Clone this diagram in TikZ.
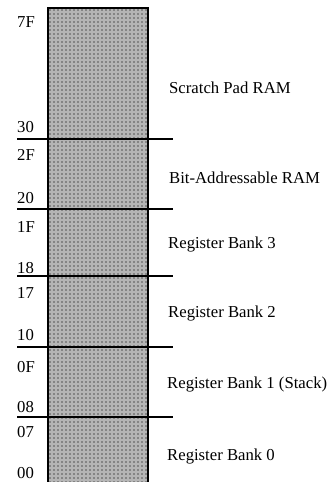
\documentclass[tikz,border=0pt]{standalone}
\usepackage{fontspec}
\setmainfont{Liberation Serif}
\begin{document}
\begin{tikzpicture}[x=1pt,y=-1pt,
  addr/.style={anchor=base west,inner sep=0pt,font=\fontsize{16.7}{18}\selectfont},
  region/.style={anchor=base west,inner sep=0pt,font=\fontsize{16.7}{18}\selectfont},
  divider/.style={line width=2.8pt},
  memfill/.style={fill=black!48}]
\useasboundingbox (0,0) rectangle (329,482);
% memory block
\fill[memfill] (48,8) rectangle (148,482);
\begin{scope}
\clip (48,8) rectangle (148,482);
\draw[white,opacity=0.4,line width=1.2pt,step=4pt] (48,8) grid (148,482);
\end{scope}
\draw[line width=2.8pt] (48,483) -- (48,8) -- (148,8) -- (148,483);
% dividers
\foreach \yy in {139,209,276,347,417}
  \draw[divider] (17,\yy) -- (173,\yy);
% address labels
\node[addr] (a7F) at (17,27) {7F};
\node[addr] (a30) at (17,132) {30};
\node[addr] (a2F) at (17,160) {2F};
\node[addr] (a20) at (17,203) {20};
\node[addr] (a1F) at (17,232) {1F};
\node[addr] (a18) at (17,273) {18};
\node[addr] (a17) at (17,298) {17};
\node[addr] (a10) at (17,340) {10};
\node[addr] (a0F) at (17,372) {0F};
\node[addr] (a08) at (17,412) {08};
\node[addr] (a07) at (17,437) {07};
\node[addr] (a00) at (17,478) {00};
% region labels
\node[region] (scratch) at (169,93) {Scratch Pad RAM};
\node[region] (bitaddr) at (169,183) {Bit-Addressable RAM};
\node[region] (rb3) at (168,248) {Register Bank 3};
\node[region] (rb2) at (168,317) {Register Bank 2};
\node[region] (rb1) at (167,388) {Register Bank 1 (Stack)};
\node[region] (rb0) at (167,460) {Register Bank 0};
\end{tikzpicture}
\end{document}
